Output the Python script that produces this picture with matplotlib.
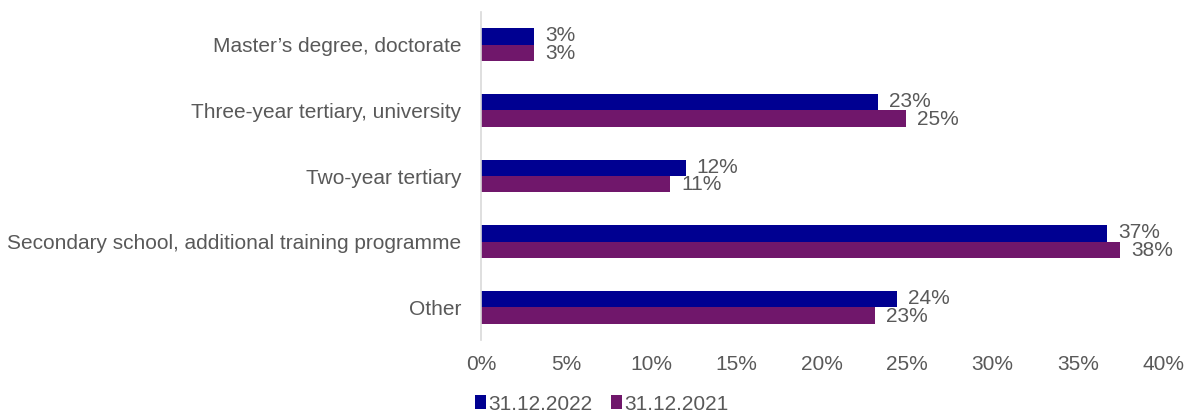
import matplotlib
matplotlib.use('Agg')
import matplotlib.pyplot as plt
import numpy as np

plt.rcParams['font.family'] = ['Liberation Sans', 'DejaVu Sans']

# ── Data ──
categories = [
    'Master\u2019s degree, doctorate',
    'Three-year tertiary, university',
    'Two-year tertiary',
    'Secondary school, additional training programme',
    'Other',
]
share_2022 = [3.1, 23.3, 12.0, 36.7, 24.4]
share_2021 = [3.1, 24.9, 11.1, 37.5, 23.1]
series_labels = ['31.12.2022', '31.12.2021']
xticks = [0, 5, 10, 15, 20, 25, 30, 35, 40]

# ── Style ──
c_2022 = '#000091'
c_2021 = '#70176B'
text_color = '#595959'
axis_color = '#D9D9D9'
fs = 15

fig = plt.figure(figsize=(11.84, 4.15), dpi=100)
ax = fig.add_axes([0.4063, 0.1807, 0.576, 0.7904])

y = np.arange(len(categories))
h = 0.25
bars_a = ax.barh(y - h / 2, share_2022, height=h, color=c_2022, label=series_labels[0])
bars_b = ax.barh(y + h / 2, share_2021, height=h, color=c_2021, label=series_labels[1])

# value labels, nudged apart a little so the two rows don't collide
for bars, dy in ((bars_a, 0.5), (bars_b, -0.5)):
    for b in bars:
        v = b.get_width()
        ax.annotate(f'{round(v):d}%', (v, b.get_y() + b.get_height() / 2),
                    xytext=(8, dy), textcoords='offset points',
                    ha='left', va='center', fontsize=fs, color=text_color)

ax.set_ylim(len(categories) - 0.5, -0.5)
ax.set_xlim(0, 40)
ax.set_yticks(y)
ax.set_yticklabels(categories)
ax.set_xticks(xticks)
ax.set_xticklabels([f'{t}%' for t in xticks])
ax.tick_params(axis='both', length=0, labelsize=fs, labelcolor=text_color)
ax.tick_params(axis='x', pad=11)
ax.tick_params(axis='y', pad=14)

for side in ('top', 'right', 'bottom'):
    ax.spines[side].set_visible(False)
ax.spines['left'].set_color(axis_color)
ax.spines['left'].set_linewidth(1.2)

leg = fig.legend(loc='center left', bbox_to_anchor=(0.392, 0.026), ncol=2,
                 frameon=False, fontsize=fs, handlelength=0.55, handleheight=0.65,
                 handletextpad=0.1, columnspacing=0.9, borderpad=0)
for t in leg.get_texts():
    t.set_color(text_color)

fig.savefig('out.png', dpi=100, facecolor='white')
